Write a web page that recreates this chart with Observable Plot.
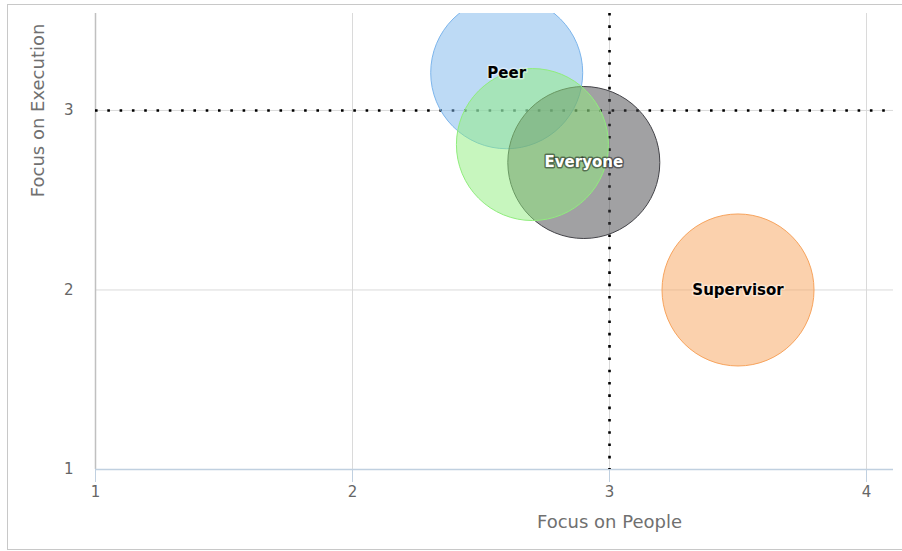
<!DOCTYPE html>
<html>
<head>
<meta charset="utf-8">
<script src="https://cdn.jsdelivr.net/npm/d3@7"></script>
<script src="https://cdn.jsdelivr.net/npm/@observablehq/plot@0.6"></script>
<style>
  html, body { margin: 0; padding: 0; background: #fff; }
  #wrap { position: relative; width: 902px; height: 551px; overflow: hidden; }
  #frame { position: absolute; left: 7px; top: 4px; width: 900px; height: 544px;
           border-top: 1px solid #c8c8c8; border-left: 1px solid #c8c8c8; border-bottom: 1px solid #c8c8c8; }
  #chart { position: absolute; left: 0; top: 0; }
  #chart svg text { font-family: "DejaVu Sans", sans-serif; }
</style>
</head>
<body>
<div id="wrap"><div id="frame"></div><div id="chart"></div></div>
<script>
// Series (drawing order as in the reference)
const labels  = ["Peer", "Everyone", "", "Supervisor"];
const people  = [2.60, 2.90, 2.70, 3.50];   // Focus on People (x)
const execut  = [3.21, 2.71, 2.81, 2.00];   // Focus on Execution (y)
const colors  = ["#7cb5ec", "#434348", "#90ed7d", "#f7a35c"];

// Axes
const xTicks = [1, 2, 3, 4];
const yTicks = [1, 2, 3];
const xDomain = [1, 4.105];
const yDomain = [1, 3.54];
const refX = [3];            // dotted reference line on People
const refY = [3];            // dotted reference line on Execution
const xTitle = "Focus on People";
const yTitle = "Focus on Execution";
const titleCenter = [3];     // axis titles are centred on this value

const data = labels.map((l, i) => ({label: l, x: people[i], y: execut[i], color: colors[i]}));
const labeled = data.filter(d => d.label !== "");
const isDark = c => d3.hsl(c).l < 0.4;

const plot = Plot.plot({
  width: 902,
  height: 551,
  marginLeft: 95,
  marginRight: 9,
  marginTop: 13,
  marginBottom: 82,
  x: {domain: xDomain},
  y: {domain: yDomain},
  color: {type: "identity"},
  style: {background: "transparent", overflow: "visible"},
  marks: [
    Plot.gridX(xTicks.filter(t => t !== xDomain[0]), {stroke: "#dadada", strokeOpacity: 1}),
    Plot.gridY(yTicks.filter(t => t !== yDomain[0]), {stroke: "#dadada", strokeOpacity: 1}),
    Plot.ruleX([xDomain[0]], {stroke: "#c0c0c0", strokeWidth: 1.5}),
    Plot.ruleY([yDomain[0]], {stroke: "#c0d0e0", strokeWidth: 1.5}),
    Plot.axisX(xTicks, {tickSize: 13, stroke: "#c0d0e0", tickPadding: 4, fontSize: 15, fill: "#666",
                        tickFormat: "d", label: null}),
    Plot.axisY(yTicks, {tickSize: 0, tickPadding: 22, fontSize: 15, fill: "#666",
                        tickFormat: "d", label: null}),
    Plot.ruleX(refX, {stroke: "#000", strokeWidth: 2.6, strokeDasharray: "2.6,9.7"}),
    Plot.ruleY(refY, {stroke: "#000", strokeWidth: 2.6, strokeDasharray: "2.6,9.7"}),
    Plot.dot(data, {x: "x", y: "y", r: 76, fill: "color", fillOpacity: 0.5,
                    stroke: "color", strokeWidth: 1, clip: true}),
    Plot.text(labeled, {x: "x", y: "y", text: "label", fontSize: 15, fontWeight: "bold",
                        fill: d => isDark(d.color) ? "#ffffff" : "#000000",
                        stroke: d => isDark(d.color) ? "#000000" : "#ffffff",
                        strokeWidth: 3, strokeOpacity: 0.45}),
    Plot.text(titleCenter, {x: d => d, text: () => xTitle, frameAnchor: "bottom",
                            textAnchor: "middle", lineAnchor: "middle",
                            dy: 53, fontSize: 18, fill: "#707070"}),
    Plot.text(titleCenter, {y: d => d, text: () => yTitle, frameAnchor: "left",
                            textAnchor: "middle", lineAnchor: "middle",
                            dx: -57, rotate: -90, fontSize: 18, fill: "#707070"})
  ]
});
document.getElementById("chart").appendChild(plot);
</script>
</body>
</html>
